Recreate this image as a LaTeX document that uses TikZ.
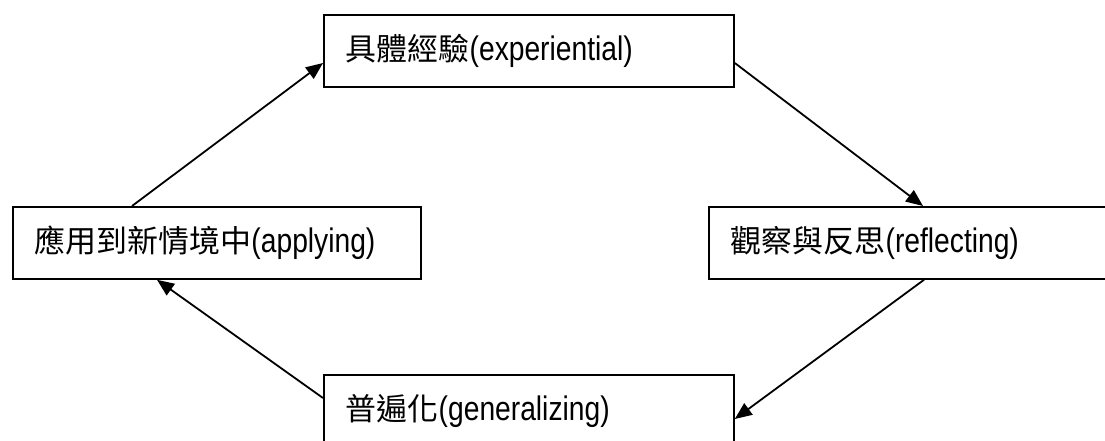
\documentclass[tikz,border=0pt]{standalone}
\usepackage{fontspec}
\setmainfont{Liberation Sans}[FakeStretch=0.83]
\newfontfamily\cjk{Noto Sans CJK TC}[Scale=0.91]
\usetikzlibrary{calc,arrows.meta}
\begin{document}
\begin{tikzpicture}[x=1pt,y=-1pt,
  box/.style={draw,line width=1.8pt,rectangle,anchor=north west,inner xsep=22pt,inner ysep=0pt,align=left,font=\fontsize{34}{38}\selectfont},
  conn/.style={line width=1.8pt,-{Triangle[length=17pt,width=14pt]}}]
\useasboundingbox (0,0) rectangle (1105,440);
\node[box,minimum height=72pt,text width=366pt] (T) at (323,14) {{\cjk 具體經驗}(experiential)};
\node[box,minimum height=72pt,text width=364pt] (L) at (12,206) {{\cjk 應用到新情境中}(applying)};
\node[box,minimum height=72pt,text width=358pt] (R) at (708,206) {{\cjk 觀察與反思}(reflecting)};
\node[box,minimum height=72pt,text width=366pt] (B) at (323,374) {{\cjk 普遍化}(generalizing)};
\draw[conn] ($(L.north west)+(120,0)$) -- ($(T.north west)+(0,49)$);
\draw[conn] ($(T.north east)+(0,49)$) -- ($(R.north west)+(215,0)$);
\draw[conn] ($(R.south west)+(216,0)$) -- ($(B.north east)+(0,45)$);
\draw[conn] ($(B.north west)+(0,24)$) -- ($(L.south west)+(145,0)$);
\end{tikzpicture}
\end{document}
